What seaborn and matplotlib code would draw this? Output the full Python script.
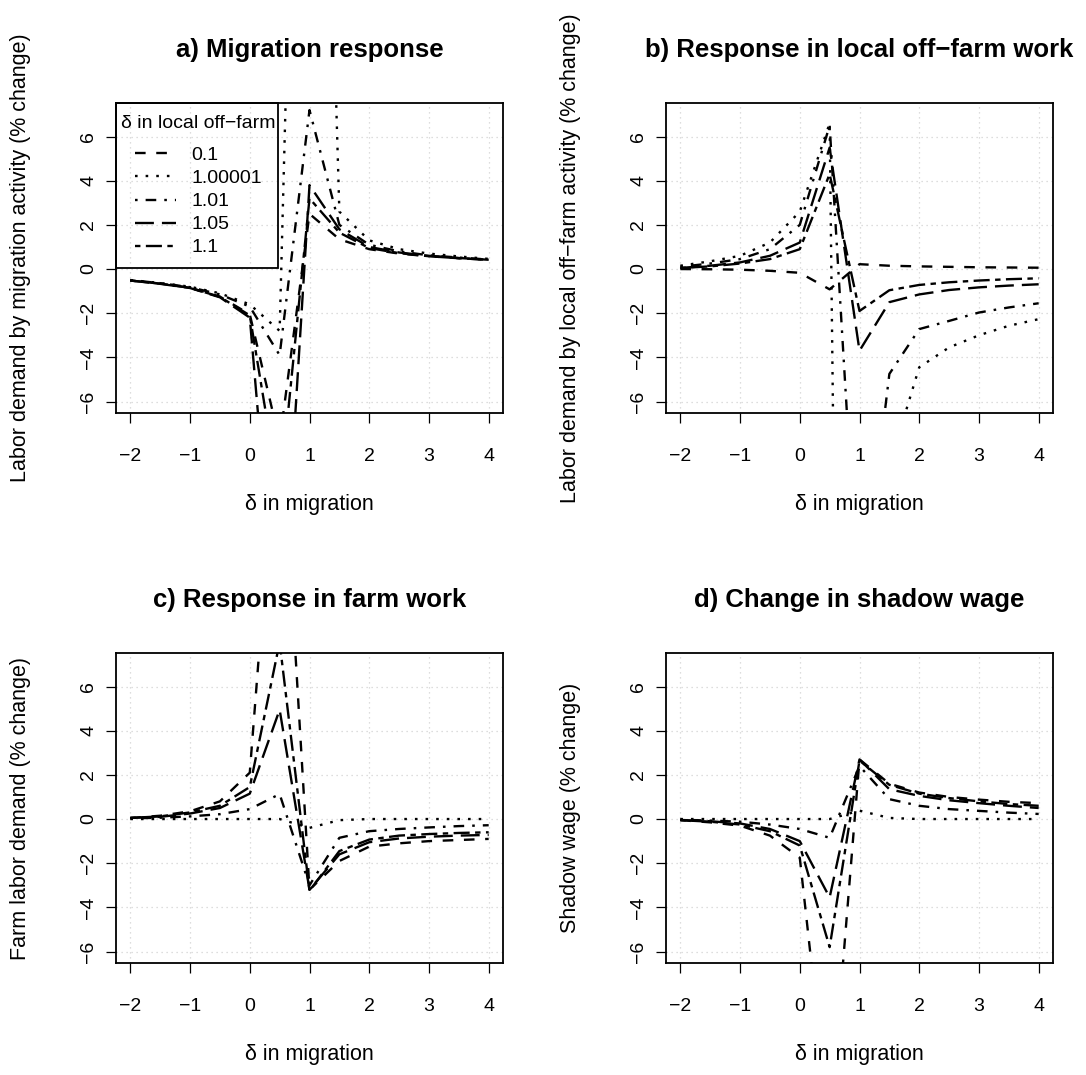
import numpy as np
import pandas as pd
import matplotlib
matplotlib.use("Agg")
import matplotlib.pyplot as plt
import matplotlib.patches as mpatches
import seaborn as sns

# delta in migration (x axis, common to all panels)
x = [-2, -1.5, -1, -0.5, 0, 0.5, 1, 1.5, 2, 2.5, 3, 3.5, 4]

# series labels: delta in local off-farm
deltas = ["0.1", "1.00001", "1.01", "1.05", "1.1"]

# a) migration response
a_01 = [-0.52, -0.66, -0.85, -1.25, -2.05, -7.8, 2.5, 1.35, 0.9, 0.7, 0.58, 0.49, 0.42]
a_100001 = [-0.50, -0.63, -0.80, -1.10, -1.60, -2.8, 49.0, 2.6, 1.3, 0.9, 0.7, 0.57, 0.46]
a_101 = [-0.50, -0.64, -0.82, -1.15, -1.70, -3.9, 7.2, 2.0, 1.1, 0.8, 0.62, 0.52, 0.43]
a_105 = [-0.52, -0.67, -0.86, -1.28, -2.20, -18.0, 3.8, 1.8, 1.0, 0.75, 0.6, 0.5, 0.42]
a_11 = [-0.52, -0.66, -0.85, -1.26, -2.10, -10.3, 3.2, 1.65, 0.95, 0.72, 0.58, 0.49, 0.42]

# b) local off-farm work
b_01 = [0.0, -0.01, -0.03, -0.08, -0.17, -0.92, 0.22, 0.15, 0.12, 0.1, 0.08, 0.07, 0.06]
b_100001 = [0.15, 0.35, 0.6, 1.2, 2.6, 6.6, -110.0, -8.9, -4.45, -3.55, -3.0, -2.57, -2.27]
b_101 = [0.1, 0.25, 0.45, 0.9, 2.0, 6.5, -16.0, -4.75, -2.72, -2.35, -1.97, -1.74, -1.55]
b_105 = [0.05, 0.15, 0.3, 0.6, 1.2, 5.5, -3.7, -1.5, -1.15, -0.95, -0.83, -0.75, -0.69]
b_11 = [0.05, 0.12, 0.25, 0.45, 0.9, 4.3, -1.9, -0.96, -0.72, -0.6, -0.52, -0.46, -0.42]

# c) farm work
c_01 = [0.05, 0.15, 0.35, 0.8, 2.1, 19.5, -3.2, -1.9, -1.25, -1.1, -1.0, -0.95, -0.9]
c_100001 = [0.0, 0.0, 0.0, 0.0, 0.0, 0.0, -0.4, -0.05, 0.0, 0.0, 0.0, 0.0, 0.0]
c_101 = [0.03, 0.06, 0.12, 0.22, 0.45, 1.13, -3.0, -0.85, -0.55, -0.45, -0.38, -0.32, -0.28]
c_105 = [0.05, 0.1, 0.25, 0.5, 1.15, 4.95, -3.2, -1.6, -1.05, -0.88, -0.8, -0.75, -0.72]
c_11 = [0.05, 0.12, 0.3, 0.6, 1.45, 8.0, -3.25, -1.45, -0.93, -0.75, -0.68, -0.63, -0.6]

# d) shadow wage
d_01 = [-0.05, -0.15, -0.3, -0.75, -1.75, -14.0, 2.7, 1.6, 1.2, 1.0, 0.88, 0.78, 0.72]
d_100001 = [0.0, 0.0, 0.0, 0.0, 0.0, 0.0, 0.38, 0.05, 0.0, 0.0, 0.0, 0.0, 0.0]
d_101 = [-0.03, -0.07, -0.12, -0.25, -0.45, -0.85, 2.4, 0.9, 0.6, 0.45, 0.37, 0.29, 0.23]
d_105 = [-0.04, -0.1, -0.2, -0.45, -1.0, -3.55, 2.7, 1.35, 1.05, 0.85, 0.72, 0.6, 0.5]
d_11 = [-0.05, -0.12, -0.25, -0.55, -1.2, -5.8, 2.65, 1.55, 1.15, 0.95, 0.8, 0.68, 0.6]

titles = ["a) Migration response", "b) Response in local off\u2212farm work",
          "c) Response in farm work", "d) Change in shadow wage"]
ylabels = ["Labor demand by migration activity (% change)",
           "Labor demand by local off\u2212farm activity (% change)",
           "Farm labor demand (% change)",
           "Shadow wage (% change)"]
panels = [
    [a_01, a_100001, a_101, a_105, a_11],
    [b_01, b_100001, b_101, b_105, b_11],
    [c_01, c_100001, c_101, c_105, c_11],
    [d_01, d_100001, d_101, d_105, d_11],
]

# R-like line types: dashed, dotted, dotdash, longdash, twodash
dash_map = {
    "0.1": (4.5, 4.5),
    "1.00001": (1.1, 3.4),
    "1.01": (1.1, 3.4, 4.5, 3.4),
    "1.05": (8, 3.4),
    "1.1": (2.3, 2.3, 6.8, 2.3),
}

sns.set_style("white")
plt.rcParams["font.family"] = ["Liberation Sans", "DejaVu Sans"]
plt.rcParams["text.color"] = "black"
plt.rcParams["axes.labelcolor"] = "black"
plt.rcParams["xtick.color"] = "black"
plt.rcParams["ytick.color"] = "black"

fig = plt.figure(figsize=(10.86, 10.75), dpi=100)
W, H = 1086, 1075
boxes = [(116, 413), (666, 413), (116, 963), (666, 963)]

for i, (series, title, ylab) in enumerate(zip(panels, titles, ylabels)):
    left, bottom = boxes[i]
    ax = fig.add_axes([left / W, 1 - bottom / H, 387 / W, 310 / H])

    rows = []
    for lab, vals in zip(deltas, series):
        for xv, yv in zip(x, vals):
            rows.append({"x": xv, "y": yv, "delta": lab})
    df = pd.DataFrame(rows)

    sns.lineplot(data=df, x="x", y="y", style="delta", style_order=deltas,
                 dashes=dash_map, color="black", linewidth=1.7,
                 legend=False, ax=ax, sort=False)

    ax.set_xlim(-2.24, 4.24)
    ax.set_ylim(-6.52, 7.52)
    ax.set_xticks([-2, -1, 0, 1, 2, 3, 4])
    ax.set_yticks([-6, -4, -2, 0, 2, 4, 6])
    ax.set_axisbelow(True)
    ax.grid(True, color="lightgray", linestyle=(0, (1, 3)), linewidth=0.9)
    for sp in ax.spines.values():
        sp.set_visible(True)
        sp.set_color("black")
        sp.set_linewidth(1.3)

    ax.tick_params(axis="both", direction="out", length=7.5, width=0.9,
                   color="black", labelcolor="black", labelsize=14,
                   bottom=True, left=True)
    ax.tick_params(axis="x", pad=18)
    ax.tick_params(axis="y", pad=6, labelrotation=90)
    for t in ax.get_yticklabels():
        t.set_va("center")

    ax.set_title(title, fontsize=18.5, fontweight="bold", pad=33, color="black")
    ax.set_xlabel("\u03b4 in migration", fontsize=15.5)
    ax.set_ylabel(ylab, fontsize=15.5)
    ax.xaxis.set_label_coords(0.5, -0.262)
    ax.yaxis.set_label_coords(-0.22, 0.5)

    if i == 0:
        handles = ax.get_lines()[:5]
        leg = ax.legend(handles, deltas, title="\u03b4 in local off\u2212farm",
                        loc="upper left", bbox_to_anchor=(5 / 387, 1 - 12 / 310),
                        borderaxespad=0, borderpad=0, fontsize=14,
                        title_fontsize=14, frameon=False, handlelength=2.1,
                        handletextpad=0.8, labelspacing=0.28)
        leg._legend_box.sep = 10.5
        # R-style legend box (transparent inside)
        ax.add_patch(mpatches.Rectangle((0, (413 - 268) / 310), 162 / 387,
                                        1 - (413 - 268) / 310,
                                        transform=ax.transAxes, fill=False,
                                        edgecolor="black", linewidth=1.3,
                                        clip_on=False, zorder=5))

fig.savefig("out.png", dpi=100)
